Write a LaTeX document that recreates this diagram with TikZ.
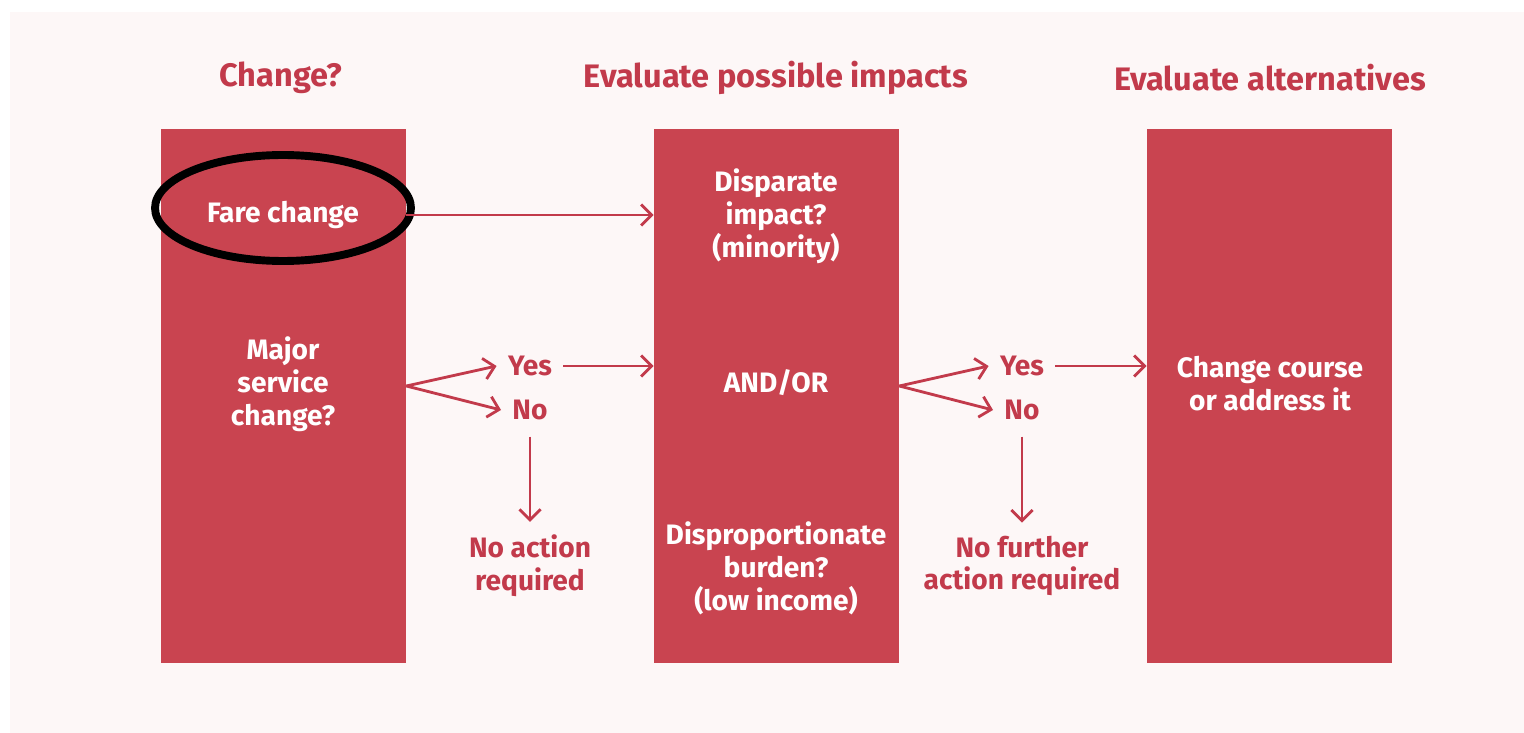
\documentclass[tikz,border=0pt]{standalone}
\usepackage{fontspec}
\setmainfont{Fira Sans}
\usetikzlibrary{arrows.meta}
\definecolor{boxred}{HTML}{C94450}
\definecolor{linered}{HTML}{C23A4B}
\definecolor{panel}{HTML}{FDF7F7}
\tikzset{
  px/.style={x=0.02cm,y=-0.02cm},
  col/.style={fill=boxred, draw=none, minimum width=4.9cm, minimum height=10.68cm, inner sep=0pt},
  title/.style={text=linered, font=\fontsize{18.5}{21}\selectfont\bfseries},
  intext/.style={text=white, align=center, font=\fontsize{16}{18.7}\selectfont\bfseries},
  outtext/.style={text=linered, align=center, font=\fontsize{16}{18.7}\selectfont\bfseries},
  conn/.style={draw=linered, line width=1.6pt, -{Straight Barb[length=6pt,width=12pt,line width=1.6pt]}}
}
\begin{document}
\begin{tikzpicture}[px]
\useasboundingbox (0,0) rectangle (1524,733);
\fill[white] (0,0) rectangle (1524,733);
\fill[panel] (10,12) rectangle (1524,733);
% titles
\node[title] (t1) at (281,78) {Change?};
\node[title] (t2) at (776,78) {Evaluate possible impacts};
\node[title] (t3) at (1270,78) {Evaluate alternatives};
% columns
\node[col] (c1) at (283.5,396) {};
\node[col] (c2) at (776.5,396) {};
\node[col] (c3) at (1269.5,396) {};
% texts in columns
\node[intext] (fare) at (283,215) {Fare change};
\node[intext] (major) at (283,384) {Major\\service\\change?};
\node[intext] (disp) at (776,216) {Disparate\\impact?\\(minority)};
\node[intext] (andor) at (776,383) {AND/OR};
\node[intext] (burden) at (776,568) {Disproportionate\\burden?\\(low income)};
\node[intext] (course) at (1270,384) {Change course\\or address it};
% outside labels
\node[outtext] (yes1) at (530,366) {Yes};
\node[outtext] (no1) at (530,410) {No};
\node[outtext] (noact) at (530,566) {No action\\required};
\node[outtext] (yes2) at (1022,366) {Yes};
\node[outtext] (no2) at (1022,410) {No};
\node[outtext] (nofur) at (1022,566) {No further\\action required};
% ellipse
\draw[black, line width=4.5pt] (283,208) ellipse [x radius=2.56cm, y radius=1.06cm];
% connectors
\coordinate (s1) at (c1.east |- 0,386);
\coordinate (s2) at (c2.east |- 0,386);
\draw[conn] (c1.east |- fare) -- (c2.west |- fare);
\draw[conn] (s1) -- ([xshift=-3pt]yes1.west);
\draw[conn] (s1) -- ([xshift=-3pt]no1.west);
\draw[conn] ([xshift=3pt]yes1.east) -- (c2.west |- yes1);
\draw[conn] ([yshift=-6pt]no1.south) -- ([yshift=4pt]noact.north);
\draw[conn] (s2) -- ([xshift=-3pt]yes2.west);
\draw[conn] (s2) -- ([xshift=-3pt]no2.west);
\draw[conn] ([xshift=3pt]yes2.east) -- (c3.west |- yes2);
\draw[conn] ([yshift=-6pt]no2.south) -- ([yshift=4pt]nofur.north);
\end{tikzpicture}
\end{document}
